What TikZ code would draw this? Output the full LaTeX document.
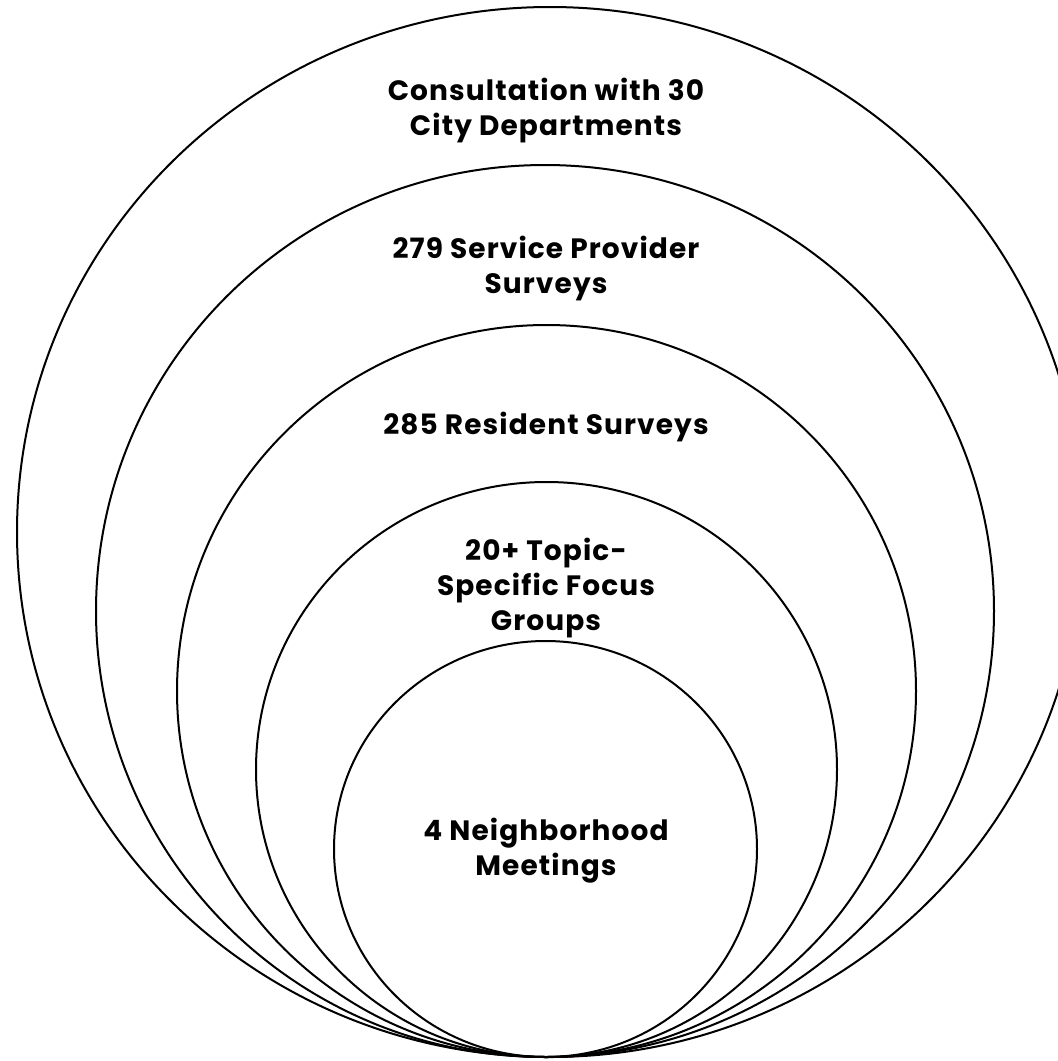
\documentclass[tikz,border=0pt]{standalone}
\usepackage{fontspec}
\setmainfont{Poppins}
\begin{document}
\begin{tikzpicture}[x=1pt,y=-1pt,line width=2pt,
    lbl/.style={font=\bfseries\fontsize{28}{35}\selectfont\addfontfeatures{LetterSpace=4},align=center}]
        \clip(0,0)rectangle(1058,1061);
        \draw(550,532)ellipse[x radius=533pt,y radius=525pt];
        \draw(545,611)ellipse[x radius=449pt,y radius=446pt];
        \draw(546.5,691)ellipse[x radius=369.5pt,y radius=366pt];
        \draw(546.5,769.5)ellipse[x radius=290.5pt,y radius=287.5pt];
        \draw(545.5,849)ellipse[x radius=211.5pt,y radius=208pt];
        \node[lbl](depts)at(546,111){Consultation with 30\\City Departments};
        \node[lbl](provider)at(546,268){279 Service Provider\\Surveys};
        \node[lbl](resident)at(546,427){285 Resident Surveys};
        \node[lbl](focus)at(546,588){20+ Topic-\\Specific Focus\\Groups};
        \node[lbl](meetings)at(546,851){4 Neighborhood\\Meetings};
    \end{tikzpicture}
\end{document}
